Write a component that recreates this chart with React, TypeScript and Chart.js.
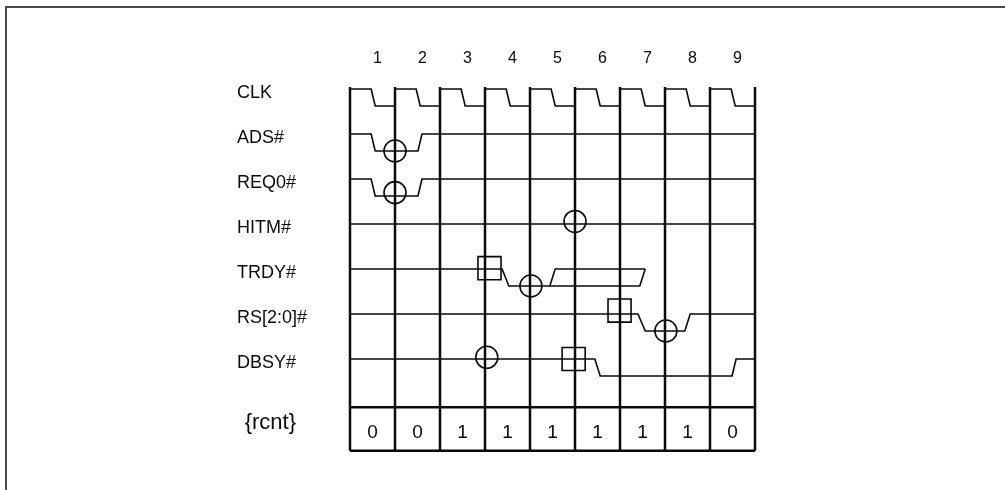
import React, { useEffect, useRef } from 'react';
import { Chart, registerables } from 'chart.js';

Chart.register(...registerables);

// ---------- data ----------
const CYCLES = ['1', '2', '3', '4', '5', '6', '7', '8', '9'];
const SIGNALS = ['CLK', 'ADS#', 'REQ0#', 'HITM#', 'TRDY#', 'RS[2:0]#', 'DBSY#'];
const COUNTER_LABEL = '{rcnt}';
const RCNT = [0, 0, 1, 1, 1, 1, 1, 1, 0];

// waveforms: [time in clocks, level (1 = high, 0 = low)]
type Pt = [number, number];
const CLK_WAVE: Pt[] = [
  [0, 1], [0.47, 1], [0.56, 0], [1, 0], [1, 1],
  [1.47, 1], [1.56, 0], [2, 0], [2, 1],
  [2.47, 1], [2.56, 0], [3, 0], [3, 1],
  [3.47, 1], [3.56, 0], [4, 0], [4, 1],
  [4.47, 1], [4.56, 0], [5, 0], [5, 1],
  [5.47, 1], [5.56, 0], [6, 0], [6, 1],
  [6.47, 1], [6.56, 0], [7, 0], [7, 1],
  [7.47, 1], [7.56, 0], [8, 0], [8, 1],
  [8.47, 1], [8.56, 0], [9, 0], [9, 1],
];
const ADS_WAVE: Pt[] = [[0, 1], [0.47, 1], [0.56, 0], [1.51, 0], [1.6, 1], [9, 1]];
const REQ0_WAVE: Pt[] = [[0, 1], [0.47, 1], [0.56, 0], [1.51, 0], [1.6, 1], [9, 1]];
const HITM_WAVE: Pt[] = [[0, 1], [9, 1]];
const TRDY_WAVE: Pt[] = [[0, 1], [3.38, 1], [3.53, 0], [6.44, 0], [6.56, 1]];
const TRDY_WAVE_B: Pt[] = [[4.44, 0], [4.56, 1], [6.56, 1]];
const RS_WAVE: Pt[] = [[0, 1], [6.4, 1], [6.56, 0], [7.44, 0], [7.56, 1], [9, 1]];
const DBSY_WAVE: Pt[] = [[0, 1], [5.44, 1], [5.56, 0], [8.49, 0], [8.58, 1], [9, 1]];

// waveform -> signal row index
const WAVES: [number, Pt[]][] = [
  [0, CLK_WAVE], [1, ADS_WAVE], [2, REQ0_WAVE], [3, HITM_WAVE],
  [4, TRDY_WAVE], [4, TRDY_WAVE_B], [5, RS_WAVE], [6, DBSY_WAVE],
];

// markers: [signal row, time, level]
const CIRCLES: [number, number, number][] = [
  [1, 1.0, 0], [2, 1.0, 0.2], [3, 5.0, 1.15], [4, 4.02, 0], [5, 7.02, 0], [6, 3.04, 1.1],
];
const SQUARES: [number, number, number][] = [
  [4, 3.1, 1.05], [5, 5.99, 1.2], [6, 4.97, 1.0],
];

// ---------- layout constants (px) ----------
const W = 1005;
const H = 490;
const X0_PX = 350;     // pixel of clock 0
const UNIT_PX = 45;    // pixels per clock / per row
const ROW0_PX = 89;    // pixel of first row high level
const LOW = 17 / 45;   // low level depth in row units
const GRID_TOP = -0.045;
const BOX_TOP = 7.07;
const BOX_BOTTOM = 8.04;

const XMIN = -X0_PX / UNIT_PX;
const XMAX = XMIN + W / UNIT_PX;
const YMIN = -ROW0_PX / UNIT_PX;
const YMAX = YMIN + H / UNIT_PX;

const INK = '#0a0a0a';
const FONT = '"Liberation Sans", Arial, Helvetica, sans-serif';

const toY = (row: number, level: number) => row + (1 - level) * LOW;

const labelsPlugin = {
  id: 'timingLabels',
  beforeDraw(chart: any) {
    const { ctx } = chart;
    ctx.save();
    ctx.fillStyle = '#ffffff';
    ctx.fillRect(0, 0, W, H);
    ctx.fillStyle = '#4a4a4a';
    ctx.fillRect(5, 6, W - 5, 2);
    ctx.fillRect(5, 6, 2, H - 6);
    ctx.restore();
  },
  afterDatasetsDraw(chart: any) {
    const { ctx } = chart;
    const x = chart.scales.x;
    const y = chart.scales.y;
    ctx.save();
    ctx.fillStyle = INK;
    ctx.textBaseline = 'middle';

    ctx.textAlign = 'center';
    ctx.font = `16px ${FONT}`;
    CYCLES.forEach((c, i) => {
      ctx.fillText(c, x.getPixelForValue(i + 0.61), y.getPixelForValue(-0.68));
    });

    ctx.textAlign = 'left';
    ctx.font = `18px ${FONT}`;
    SIGNALS.forEach((s, i) => {
      ctx.fillText(s, x.getPixelForValue(-2.51), y.getPixelForValue(i + 0.1));
    });

    ctx.font = `22px ${FONT}`;
    ctx.fillText(COUNTER_LABEL, x.getPixelForValue(-2.34), y.getPixelForValue(7.43));

    ctx.textAlign = 'center';
    ctx.font = `19px ${FONT}`;
    RCNT.forEach((v, i) => {
      ctx.fillText(String(v), x.getPixelForValue(i + 0.5), y.getPixelForValue(7.64));
    });
    ctx.restore();
  },
};

export default function App() {
  const ref = useRef<HTMLCanvasElement | null>(null);

  useEffect(() => {
    if (!ref.current) return;
    const datasets: any[] = [];

    // vertical clock grid lines
    for (let i = 0; i <= CYCLES.length; i++) {
      datasets.push({
        data: [{ x: i, y: GRID_TOP }, { x: i, y: BOX_BOTTOM }],
        showLine: true,
        borderColor: INK,
        borderWidth: 2.5,
        pointRadius: 0,
      });
    }
    // rcnt box horizontal lines
    [BOX_TOP, BOX_BOTTOM].forEach((yy) => {
      datasets.push({
        data: [{ x: 0, y: yy }, { x: CYCLES.length, y: yy }],
        showLine: true,
        borderColor: INK,
        borderWidth: 2.5,
        pointRadius: 0,
      });
    });
    // waveforms
    WAVES.forEach(([row, wave]) => {
      datasets.push({
        data: wave.map(([t, l]) => ({ x: t, y: toY(row, l) })),
        showLine: true,
        borderColor: INK,
        borderWidth: 1.6,
        pointRadius: 0,
        tension: 0,
      });
    });
    // markers
    datasets.push({
      data: CIRCLES.map(([row, t, l]) => ({ x: t, y: toY(row, l) })),
      showLine: false,
      pointStyle: 'circle',
      pointRadius: 11,
      borderColor: INK,
      borderWidth: 1.6,
      backgroundColor: 'rgba(0,0,0,0)',
    });
    datasets.push({
      data: SQUARES.map(([row, t, l]) => ({ x: t, y: toY(row, l) })),
      showLine: false,
      pointStyle: 'rect',
      pointRadius: 16.3,
      borderColor: INK,
      borderWidth: 1.6,
      backgroundColor: 'rgba(0,0,0,0)',
    });

    const chart = new Chart(ref.current, {
      type: 'scatter',
      data: { datasets },
      options: {
        responsive: false,
        animation: false,
        events: [],
        layout: { padding: 0, autoPadding: false },
        plugins: { legend: { display: false }, tooltip: { enabled: false } },
        elements: { line: { borderCapStyle: 'butt', borderJoinStyle: 'miter' } },
        scales: {
          x: { type: 'linear', display: false, min: XMIN, max: XMAX },
          y: { type: 'linear', display: false, reverse: true, min: YMIN, max: YMAX },
        },
      },
      plugins: [labelsPlugin],
    } as any);
    return () => chart.destroy();
  }, []);

  return (
    <div style={{ position: 'fixed', left: 0, top: 0, width: W, height: H, background: '#fff' }}>
      <canvas ref={ref} width={W} height={H} style={{ display: 'block', width: W, height: H }} />
    </div>
  );
}
